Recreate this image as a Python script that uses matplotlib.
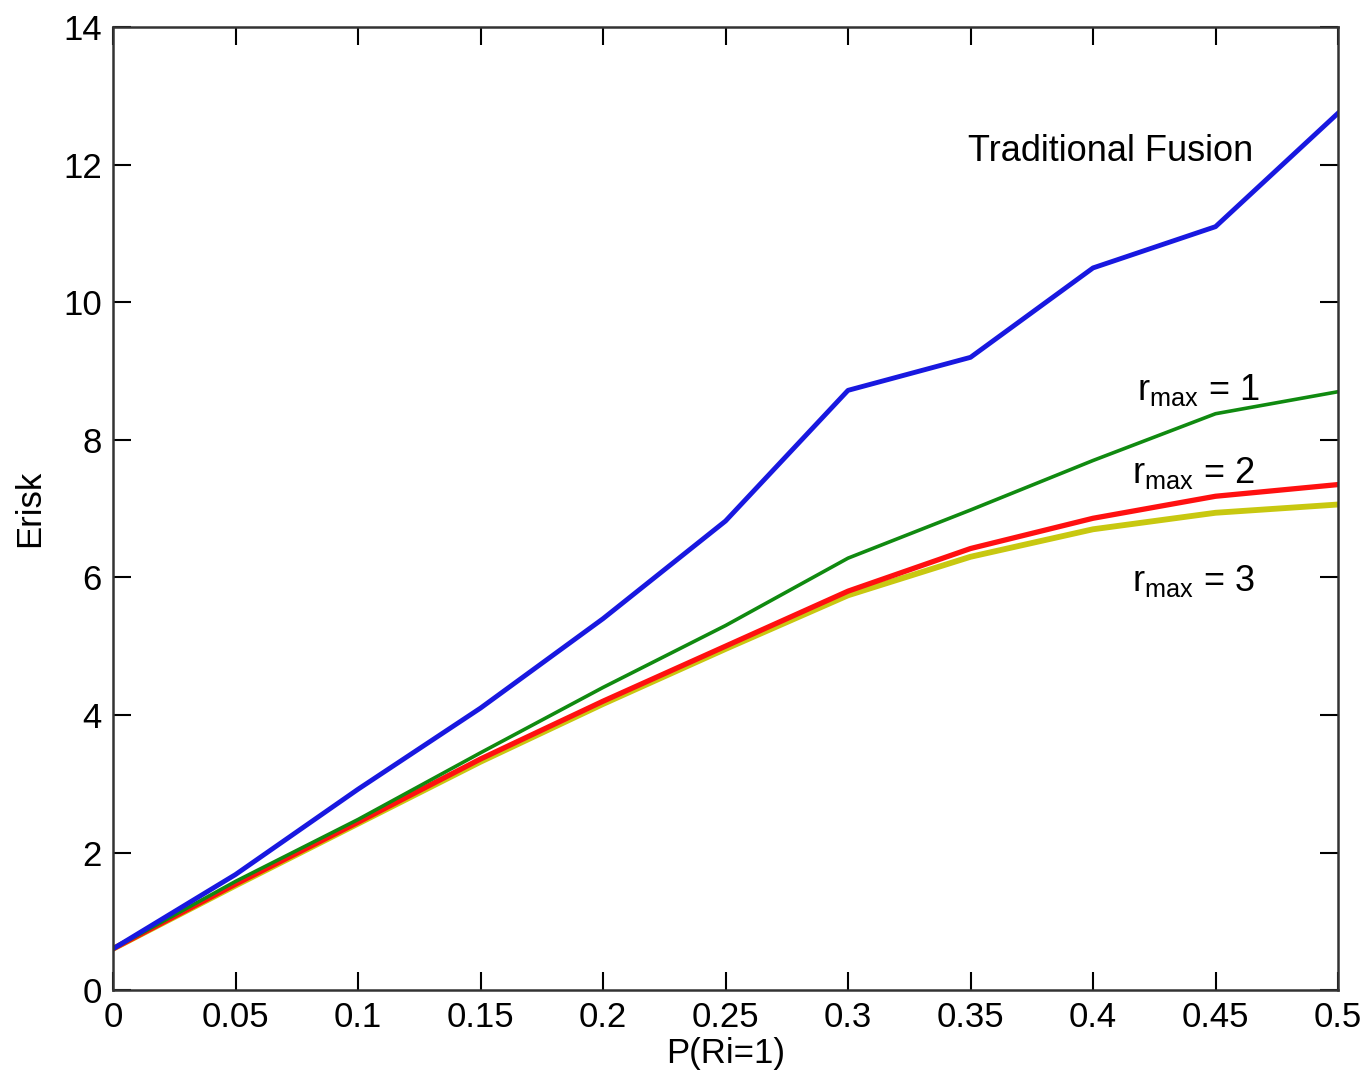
import numpy as np
import matplotlib
matplotlib.use("Agg")
import matplotlib.pyplot as plt

# ── data ─────────────────────────────────────────────────────────────────────
p = [0.0, 0.05, 0.10, 0.15, 0.20, 0.25, 0.30, 0.35, 0.40, 0.45, 0.50]
erisk_trad = [0.6, 1.68, 2.92, 4.10, 5.40, 6.82, 8.72, 9.20, 10.50, 11.10, 12.75]
erisk_r1   = [0.6, 1.58, 2.48, 3.45, 4.40, 5.30, 6.28, 6.98, 7.70, 8.38, 8.70]
erisk_r2   = [0.6, 1.54, 2.44, 3.36, 4.20, 5.00, 5.80, 6.42, 6.86, 7.18, 7.35]
erisk_r3   = [0.6, 1.52, 2.42, 3.32, 4.16, 4.96, 5.74, 6.30, 6.70, 6.94, 7.06]

plt.rcParams['font.family'] = ['Liberation Sans', 'DejaVu Sans']
plt.rcParams['mathtext.fontset'] = 'custom'
plt.rcParams['mathtext.rm'] = 'Liberation Sans'

FS = 25

fig = plt.figure(figsize=(13.68, 10.88), dpi=100)
ax = fig.add_axes([0.0826, 0.090, 0.8955, 0.885])

ax.plot(p, erisk_r3, color='#c8c810', lw=4.2)
ax.plot(p, erisk_r2, color='#ff1010', lw=3.8)
ax.plot(p, erisk_r1, color='#108a10', lw=2.6)
ax.plot(p, erisk_trad, color='#1818e0', lw=3.5)

ax.text(0.349, 12.19, "Traditional Fusion", fontsize=FS + 1, va='center', ha='left')
ax.text(0.418, 8.72, r"$\mathregular{r_{max}}$ = 1", fontsize=FS + 1, va='center')
ax.text(0.416, 7.52, r"$\mathregular{r_{max}}$ = 2", fontsize=FS + 1, va='center')
ax.text(0.416, 5.95, r"$\mathregular{r_{max}}$ = 3", fontsize=FS + 1, va='center')

ax.set_xlim(0, 0.5)
ax.set_ylim(0, 14)
ax.set_xticks(np.arange(0, 0.51, 0.05))
ax.set_xticklabels(["0", "0.05", "0.1", "0.15", "0.2", "0.25", "0.3",
                    "0.35", "0.4", "0.45", "0.5"])
ax.set_yticks(np.arange(0, 15, 2))
ax.tick_params(direction='in', top=True, right=True, length=13, width=1.5,
               labelsize=FS, pad=8)
for s in ax.spines.values():
    s.set_linewidth(1.8)
    s.set_color('#333333')
ax.set_xlabel("P(Ri=1)", fontsize=FS, labelpad=2)
ax.set_ylabel("Erisk", fontsize=FS, labelpad=12)

plt.savefig("out.png", dpi=100)
